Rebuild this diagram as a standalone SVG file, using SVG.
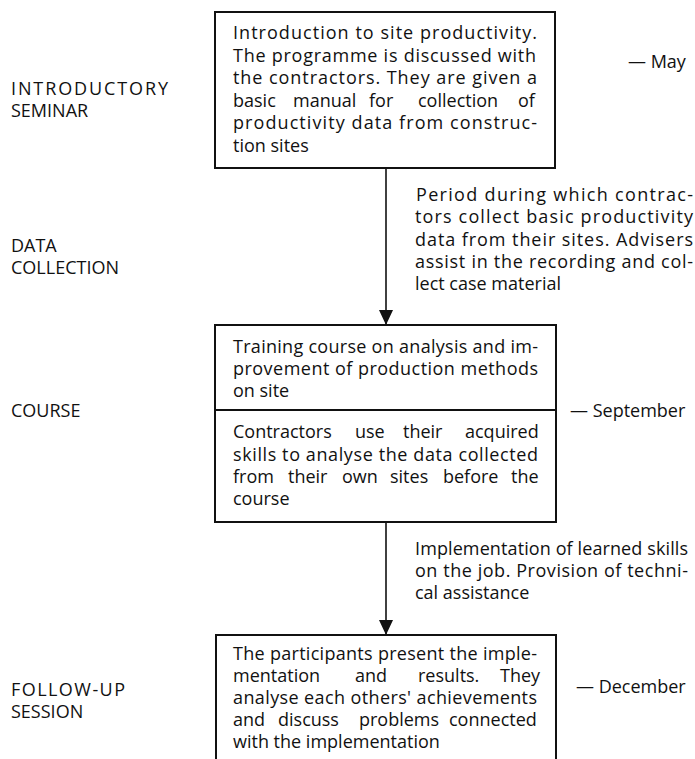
<svg xmlns="http://www.w3.org/2000/svg" width="695" height="759" viewBox="0 0 695 759">
  <style>
    .box { fill: #ffffff; stroke: #111111; stroke-width: 2; }
    .rule { stroke: #111111; stroke-width: 2; fill: none; }
    .link { stroke: #111111; stroke-width: 1.6; fill: none; }
    text { font-family: "Open Sans", "Liberation Sans", sans-serif; font-size: 18px; fill: #111111; }
  </style>
  <defs>
    <marker id="head" markerUnits="userSpaceOnUse" markerWidth="16" markerHeight="14" refX="15" refY="7" orient="auto" viewBox="0 0 16 14">
      <path d="M0,0 L15,7 L0,14 Z" fill="#111111"/>
    </marker>
  </defs>
  <rect width="695" height="759" fill="#ffffff"/>

  <!-- stage names down the left side -->
  <g id="stage-labels">
    <text x="11" y="95" textLength="157" lengthAdjust="spacing">INTRODUCTORY</text>
    <text x="11" y="117">SEMINAR</text>
    <text x="11" y="252">DATA</text>
    <text x="11" y="274">COLLECTION</text>
    <text x="11" y="417">COURSE</text>
    <text x="11" y="696" textLength="114" lengthAdjust="spacing">FOLLOW-UP</text>
    <text x="11" y="718">SESSION</text>
  </g>

  <!-- connectors between the boxes -->
  <g id="connectors">
    <line class="link" x1="386" y1="168" x2="386" y2="325" marker-end="url(#head)"/>
    <line class="link" x1="386" y1="522" x2="386" y2="635" marker-end="url(#head)"/>
  </g>

  <!-- seminar box -->
  <g id="seminar">
    <rect class="box" x="215" y="12" width="340" height="156"/>
    <text x="233" y="39" textLength="304" lengthAdjust="spacing">Introduction to site productivity.</text>
    <text x="233" y="62" textLength="303" lengthAdjust="spacing">The programme is discussed with</text>
    <text x="233" y="84" textLength="304" lengthAdjust="spacing">the contractors. They are given a</text>
    <text y="107"><tspan x="233">basic</tspan><tspan x="293">manual</tspan><tspan x="369">for</tspan><tspan x="418">collection</tspan><tspan x="518">of</tspan></text>
    <text x="233" y="129" textLength="304" lengthAdjust="spacing">productivity data from construc-</text>
    <text x="233" y="152">tion sites</text>
  </g>

  <!-- data collection period -->
  <g id="collection-note">
    <text x="416" y="201" textLength="277" lengthAdjust="spacing">Period during which contrac-</text>
    <text x="415" y="223" textLength="278" lengthAdjust="spacing">tors collect basic productivity</text>
    <text x="415" y="246" textLength="278" lengthAdjust="spacing">data from their sites. Advisers</text>
    <text x="415" y="268" textLength="278" lengthAdjust="spacing">assist in the recording and col-</text>
    <text x="415" y="290">lect case material</text>
  </g>

  <!-- course box, split into two parts -->
  <g id="course">
    <rect class="box" x="215" y="325" width="341" height="197"/>
    <line class="rule" x1="215" y1="410" x2="556" y2="410"/>
    <text x="233" y="353" textLength="305" lengthAdjust="spacing">Training course on analysis and im-</text>
    <text x="233" y="375" textLength="305" lengthAdjust="spacing">provement of production methods</text>
    <text x="233" y="397">on site</text>
    <text y="438"><tspan x="233">Contractors</tspan><tspan x="355">use</tspan><tspan x="403">their</tspan><tspan x="465">acquired</tspan></text>
    <text x="233" y="461" textLength="305" lengthAdjust="spacing">skills to analyse the data collected</text>
    <text y="483"><tspan x="233">from</tspan><tspan x="288">their</tspan><tspan x="342">own</tspan><tspan x="390">sites</tspan><tspan x="443">before</tspan><tspan x="511">the</tspan></text>
    <text x="233" y="505">course</text>
  </g>

  <!-- implementation period -->
  <g id="implementation-note">
    <text x="415" y="555" textLength="273" lengthAdjust="spacing">Implementation of learned skills</text>
    <text x="415" y="577" textLength="273" lengthAdjust="spacing">on the job. Provision of techni-</text>
    <text x="415" y="599">cal assistance</text>
  </g>

  <!-- follow-up box, running off the lower edge -->
  <g id="follow-up">
    <path class="box" d="M216,762 L216,635 L556,635 L556,762"/>
    <text x="233" y="660" textLength="304" lengthAdjust="spacing">The participants present the imple-</text>
    <text y="682"><tspan x="233">mentation</tspan><tspan x="355">and</tspan><tspan x="418">results.</tspan><tspan x="500">They</tspan></text>
    <text x="233" y="704" textLength="304" lengthAdjust="spacing">analyse each others' achievements</text>
    <text y="726"><tspan x="233">and</tspan><tspan x="278">discuss</tspan><tspan x="359">problems</tspan><tspan x="449">connected</tspan></text>
    <text x="233" y="748">with the implementation</text>
  </g>

  <!-- dates on the right -->
  <g id="dates">
    <text x="628" y="68">— May</text>
    <text x="570" y="417">— September</text>
    <text x="576" y="693">— December</text>
  </g>
</svg>
